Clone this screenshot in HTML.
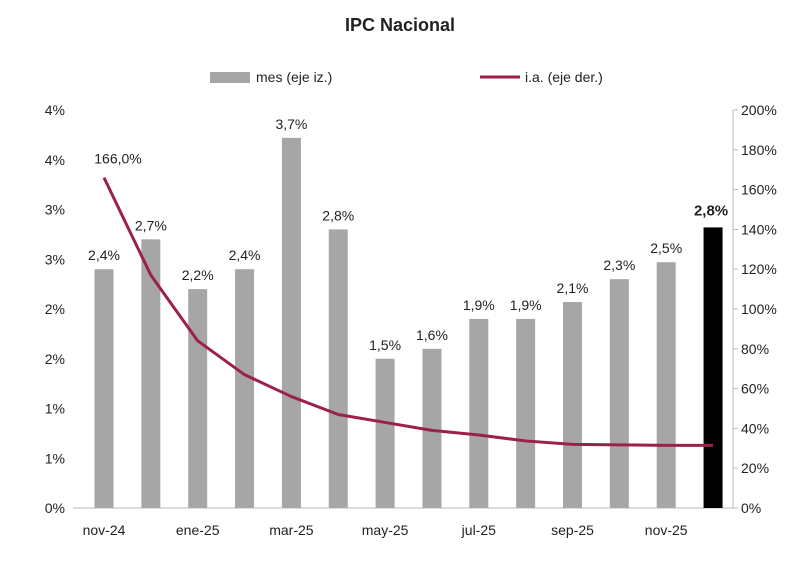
<!DOCTYPE html>
<html><head><meta charset="utf-8"><style>
body{margin:0;background:#fff;font-family:"Liberation Sans",sans-serif}
svg text{font-family:"Liberation Sans",sans-serif;fill:#222}
</style></head><body>
<svg id="chart" width="800" height="567">
<text x="400" y="31" text-anchor="middle" font-size="18" font-weight="bold">IPC Nacional</text>
<g>
<rect x="210" y="72" width="40" height="11" fill="#a6a6a6"></rect>
<text x="256" y="82" font-size="14">mes (eje iz.)</text>
<line x1="480" y1="77" x2="520" y2="77" stroke="#9b2246" stroke-width="3"></line>
<text x="525" y="82" font-size="14">i.a. (eje der.)</text>
</g>
<g id="axes"></g><g id="bars"></g><g id="line"></g>
</svg>
<script>
const categories=["nov-24","dic-24","ene-25","feb-25","mar-25","abr-25","may-25","jun-25","jul-25","ago-25","sep-25","oct-25","nov-25","dic-25"];
const monthly=[2.4,2.7,2.2,2.4,3.72,2.8,1.5,1.6,1.9,1.9,2.07,2.3,2.47,2.82];
const yoy=[166.0,117,84,67,56,47,43,39,36.7,33.7,32,31.7,31.5,31.5];
const leftTicks=["0%","1%","1%","2%","2%","3%","3%","4%","4%"];
const leftTickVals=[0,0.5,1,1.5,2,2.5,3,3.5,4];
const rightTickVals=[0,20,40,60,80,100,120,140,160,180,200];
const NS="http://www.w3.org/2000/svg";
const y0=508,yTop=110,xL=73,xR=733;
const yL=v=>y0-(v/4)*(y0-yTop);
const yR=v=>y0-(v/200)*(y0-yTop);
const xC=i=>104+i*46.85;
function mk(t,a,p){const e=document.createElementNS(NS,t);for(const k in a)e.setAttribute(k,a[k]);p.appendChild(e);return e;}
const ax=document.getElementById('axes'),bg=document.getElementById('bars'),lg=document.getElementById('line');
const bl=mk('line',{x1:xL,y1:y0,x2:xR,y2:y0,stroke:'#bbb'},ax);

const rl=mk('line',{x1:xR,y1:yTop,x2:xR,y2:y0,stroke:'#bbb'},ax);

leftTickVals.forEach((v,i)=>{const t=mk('text',{x:65,y:yL(v)+5,'text-anchor':'end','font-size':14},ax);t.textContent=leftTicks[i];
});
rightTickVals.forEach(v=>{mk('line',{x1:xR,y1:yR(v),x2:xR+5,y2:yR(v),stroke:'#bbb'},ax);
const t=mk('text',{x:741,y:yR(v)+5,'font-size':14},ax);t.textContent=v+'%';
});
categories.forEach((c,i)=>{if(i%2===0){const t=mk('text',{x:xC(i),y:535,'text-anchor':'middle','font-size':14},ax);t.textContent=c;
}});
monthly.forEach((v,i)=>{const last=i===monthly.length-1;
const r=mk('rect',{x:xC(i)-9.5,y:yL(v),width:19,height:y0-yL(v),fill:last?'#000':'#a6a6a6'},bg);

const t=mk('text',{x:xC(i)+(last?-2:0),y:yL(v)-(last?12:9),'text-anchor':'middle','font-size':last?15:14,'font-weight':last?'bold':'normal'},bg);
t.textContent=v.toFixed(1).replace('.',',')+'%';
});
const p=mk('polyline',{points:yoy.map((v,i)=>xC(i)+','+yR(v)).join(' '),fill:'none',stroke:'#9b2246','stroke-width':3,'stroke-linejoin':'round'},lg);

const lt=mk('text',{x:xC(0)+14,y:yR(yoy[0])-14,'text-anchor':'middle','font-size':14},lg);
lt.textContent=yoy[0].toFixed(1).replace('.',',')+'%';

</script>
</body></html>
